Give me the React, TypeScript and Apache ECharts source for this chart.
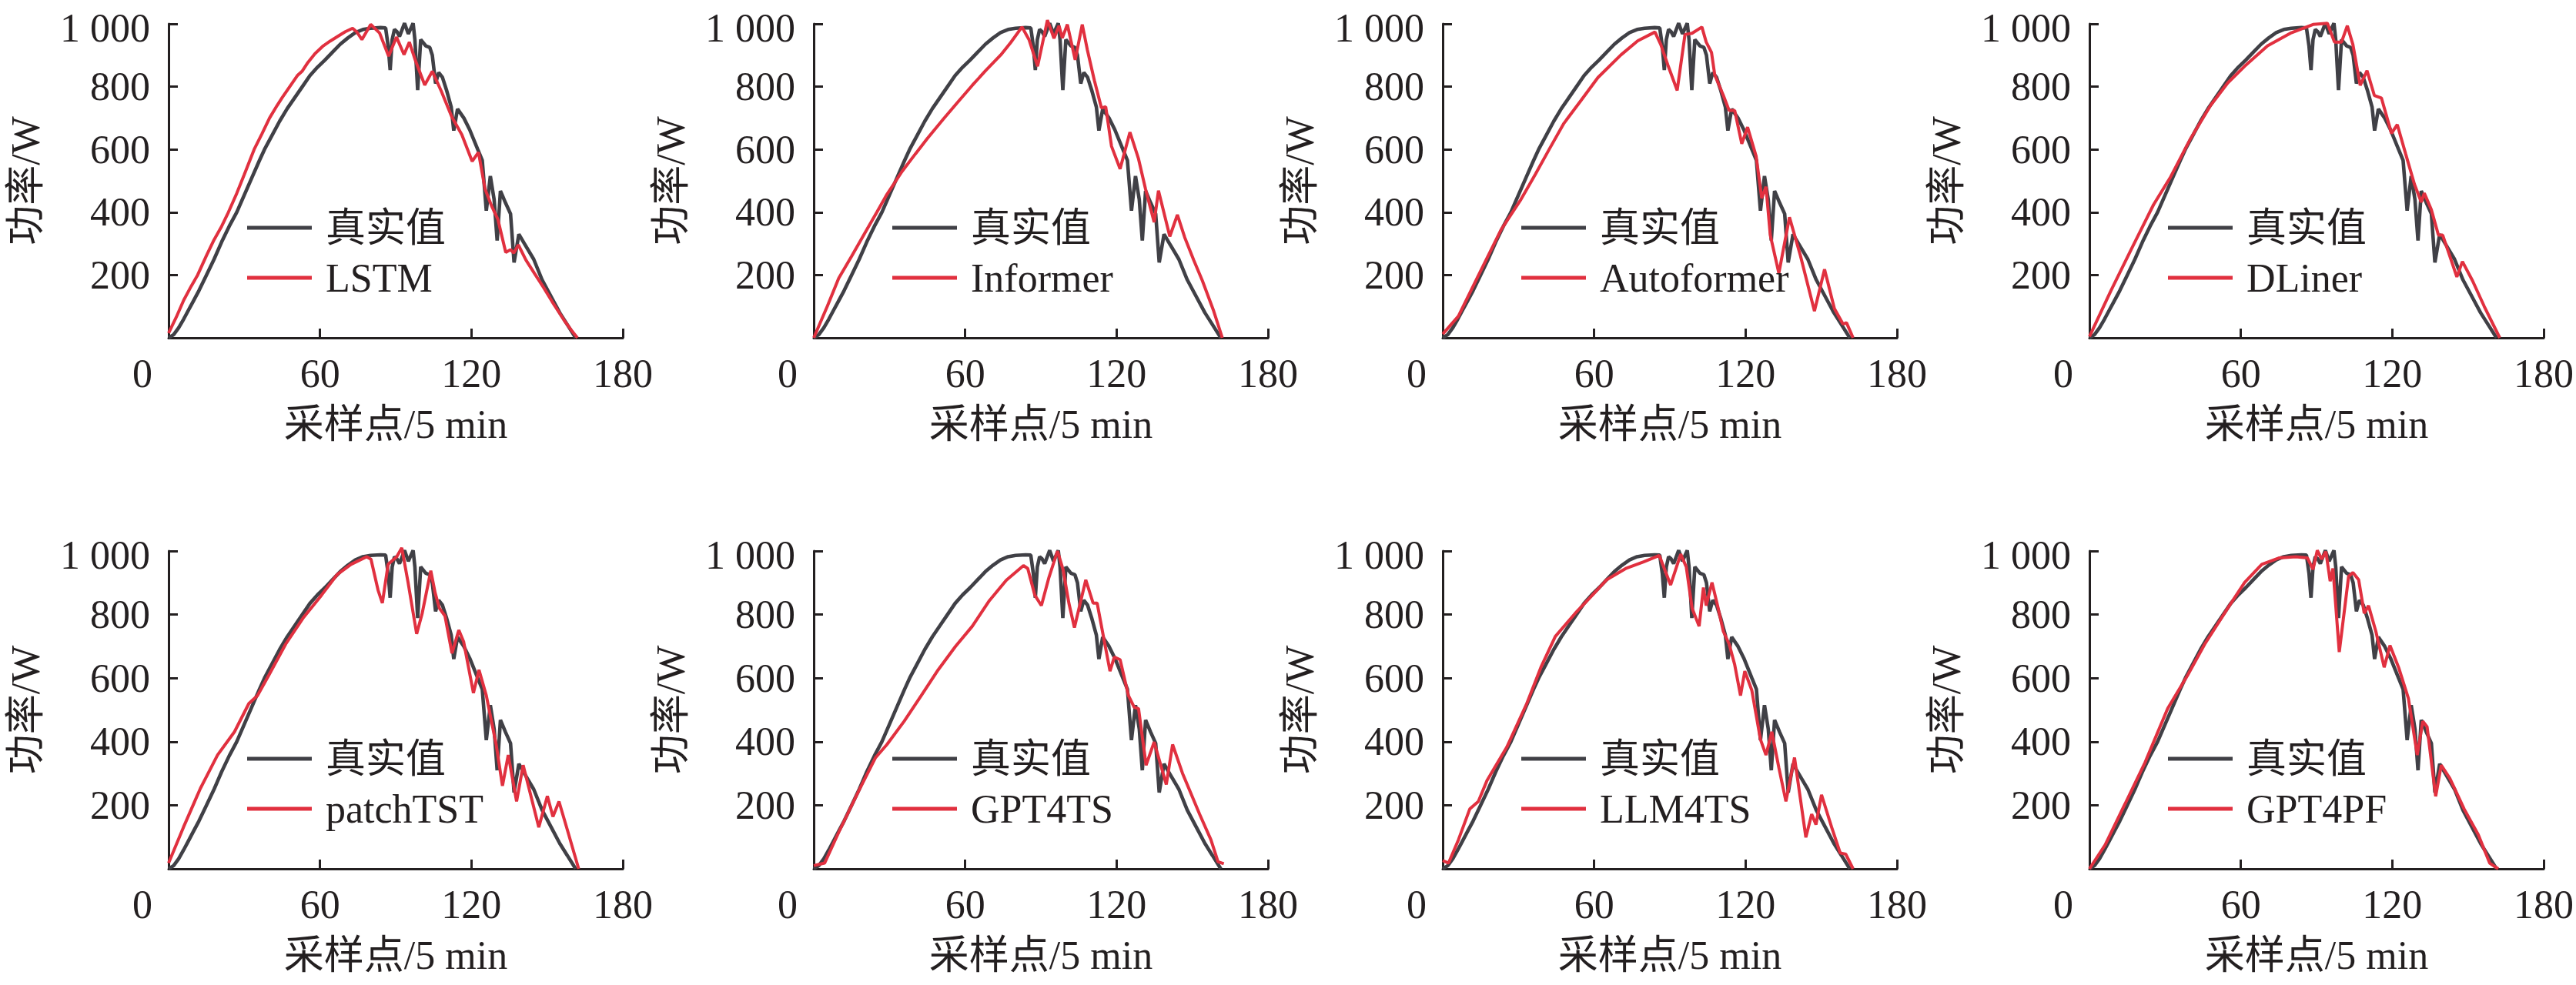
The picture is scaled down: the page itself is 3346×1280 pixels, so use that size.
import React, { useEffect, useRef } from 'react';
import * as echarts from 'echarts';

// ---- data (sample index, power W) ----
const X_TICKS = { min: 0, max: 180, interval: 60 };
const Y_TICKS = { min: 0, max: 1000, interval: 200 };
const X_NAME = '采样点/5 min';
const Y_NAME = '功率/W';
const TRUE_NAME = '真实值';
const MODELS = ['LSTM', 'Informer', 'Autoformer', 'DLiner', 'patchTST', 'GPT4TS', 'LLM4TS', 'GPT4PF'];

const TRUE_VALUES = [
  [0, 0], [2, 10], [4, 32], [6, 60], [8, 90], [10, 120], [12, 150], [15, 200], [18, 250], [21, 305],
  [24, 355], [27, 400], [30, 455], [33, 510], [36, 565], [38, 600], [41, 645], [44, 690], [47, 730],
  [50, 765], [53, 800], [56, 835], [59, 862], [62, 885], [65, 910], [68, 935], [71, 955], [74, 972],
  [77, 982], [80, 986], [84, 988], [86, 987], [87, 930], [87.8, 853], [88.6, 950], [89.5, 982],
  [90.5, 975], [91.5, 960], [93.5, 1002], [95, 968], [96.9, 1002], [97.6, 950], [98.7, 789],
  [99.9, 950], [101.9, 930], [103.5, 925], [104.5, 900], [105.8, 810], [107, 845], [108.5, 830],
  [110.1, 790], [112, 735], [113, 660], [114.5, 729], [117, 700], [119.3, 663], [122.5, 600],
  [124.3, 565], [125.9, 405], [127.5, 515], [129, 440], [130.2, 310], [131.5, 468], [133.5, 430],
  [135.5, 395], [136.9, 240], [138.8, 330], [141, 300], [144.7, 250], [148, 185], [152, 125],
  [155, 80], [158, 42], [161.3, 0],
];

const LSTM_PRED = [
  [0, 15], [3, 65], [6, 120], [9, 165], [11.5, 200], [15, 262], [18, 312], [21, 355], [23.7, 400],
  [27, 460], [30, 520], [33.9, 600], [37, 650], [40, 700], [43, 740], [45, 765], [48, 800], [51, 835],
  [53, 850], [55.2, 877], [58, 905], [61.3, 930], [64, 945], [67.4, 962], [70, 975], [72.9, 986],
  [74.5, 975], [76.6, 950], [80.1, 998], [83.6, 971], [87.2, 897], [90.3, 958], [93.3, 902],
  [95.4, 942], [97.9, 881], [101.5, 805], [104.5, 849], [108.1, 785], [112.2, 704], [116.2, 647],
  [120.3, 562], [122.8, 591], [125.4, 474], [128, 420], [130.5, 377], [133.6, 272], [135.5, 281],
  [136.8, 270], [138.6, 296], [141.6, 248], [145, 205], [148.7, 159], [152, 115], [156.9, 54],
  [160, 20], [162, 0],
];

const INFORMER_PRED = [
  [0, 0], [5.4, 101], [9.9, 190], [15, 260], [20, 330], [25, 400], [29, 457], [35, 530], [40.3, 586],
  [45, 635], [51.6, 699], [57, 750], [62.8, 804], [68, 850], [74.1, 901], [78, 940], [82.5, 990],
  [85.3, 950], [88.7, 865], [92.6, 1012], [95.2, 954], [97.2, 994], [98.5, 955], [100.5, 998],
  [103.6, 885], [106.4, 998], [108.4, 918], [111.2, 820], [114, 732], [115.7, 736], [118, 610],
  [121.4, 538], [125.3, 655], [128.7, 570], [131.5, 473], [134.9, 368], [136.6, 469], [141.1, 323],
  [144.1, 392], [147, 320], [150.6, 247], [154, 182], [158.5, 85], [161.9, 0],
];

const AUTOFORMER_PRED = [
  [0, 12], [6.2, 69], [14.1, 198], [23.1, 344], [31, 441], [36.7, 521], [42.3, 602], [48, 683],
  [54.8, 756], [61.5, 829], [70.6, 901], [77.3, 946], [84.1, 974], [86.4, 934], [89.2, 869],
  [92.9, 788], [96, 966], [98.8, 970], [102.7, 990], [104.4, 942], [106.5, 909], [107.8, 837],
  [111.2, 772], [113.5, 724], [115.7, 724], [118.5, 618], [120.8, 671], [124.2, 578], [126.4, 445],
  [128.1, 481], [129.8, 327], [133.2, 206], [137.4, 384], [141.7, 263], [147.3, 85], [151.3, 218],
  [155.2, 93], [158.6, 44], [160, 48], [162.6, 0],
];

const DLINER_PRED = [
  [0, 4], [8.5, 150], [16.4, 279], [25.4, 424], [32.2, 513], [40.1, 635], [48, 740], [54.8, 812],
  [61.5, 865], [70.6, 930], [79.6, 970], [88.6, 998], [94.3, 1002], [97.1, 942], [99.9, 942],
  [102.2, 994], [104.4, 934], [107.3, 804], [110, 851], [112.9, 772], [115.7, 764], [119.7, 651],
  [122, 679], [125.3, 586], [128.8, 489], [131.5, 432], [132.7, 461], [135.5, 408], [138.3, 327],
  [140, 327], [145.6, 194], [147.8, 243], [151.8, 182], [156.4, 101], [162.6, 0],
];

const PATCHTST_PRED = [
  [0, 18], [5.9, 131], [12.6, 253], [19.4, 358], [26.1, 431], [31.8, 520], [35.2, 545], [39.7, 609],
  [46.4, 707], [53.2, 788], [60.6, 861], [66.7, 925], [72.3, 958], [78.5, 982], [80.2, 974],
  [83, 877], [84.7, 836], [87, 958], [90.4, 982], [92.4, 1010], [94.9, 901], [98.3, 739],
  [100.5, 804], [103.9, 938], [105.6, 869], [107.3, 820], [109.5, 796], [112.3, 678], [115, 751],
  [116.9, 715], [120.8, 553], [123, 626], [125.9, 545], [129.8, 391], [132.3, 261], [134.6, 358],
  [137.9, 212], [140.5, 326], [146.7, 131], [150.1, 229], [152.3, 164], [154.7, 212], [158, 123],
  [162.5, 0],
];

const GPT4TS_PRED = [
  [0, 10], [4.3, 18], [9.9, 115], [17.8, 245], [24.5, 350], [29, 391], [35.8, 464], [42.6, 545],
  [49.3, 626], [56.1, 699], [62.8, 763], [69.6, 844], [76.3, 908], [83.1, 954], [84.8, 945],
  [87.6, 861], [90.2, 828], [93.2, 917], [96.6, 1000], [98.8, 941], [101.1, 836], [103.3, 759],
  [107.8, 909], [110.7, 836], [112.3, 836], [114.6, 739], [117.4, 622], [119.1, 666], [121.4, 658],
  [124.7, 545], [127, 508], [128.7, 504], [131.7, 326], [134.9, 399], [139.7, 265], [142.2, 391],
  [146.1, 301], [152.9, 172], [157.4, 91], [160.2, 22], [162.5, 16],
];

const LLM4TS_PRED = [
  [0, 26], [2.3, 18], [6.2, 91], [10.7, 188], [14.1, 212], [17.5, 277], [25.4, 383], [33.3, 520],
  [38.9, 634], [44.6, 731], [52.5, 804], [59.3, 861], [64.9, 909], [72.8, 946], [79.6, 966],
  [85.8, 986], [90.3, 893], [94.3, 990], [96.5, 950], [98.8, 820], [101.6, 763], [103.3, 885],
  [104.4, 828], [106.7, 901], [108.9, 828], [111.2, 747], [113.5, 707], [115.7, 642], [118, 545],
  [119.7, 622], [122.5, 561], [125.9, 407], [128.1, 358], [130.4, 431], [133.2, 318], [136, 212],
  [139.4, 350], [143.9, 99], [146.2, 172], [147.9, 139], [150.1, 233], [154.1, 131], [157.5, 50],
  [159.7, 46], [162.6, 0],
];

const GPT4PF_PRED = [
  [0, 0], [6.2, 75], [14.1, 204], [22, 334], [31, 504], [38.9, 609], [45.7, 707], [54.8, 820],
  [61.5, 901], [68.3, 958], [75.1, 978], [81.8, 982], [86.4, 978], [88.6, 942], [90.3, 1002],
  [92, 974], [93.7, 998], [95.4, 905], [96.5, 945], [99, 682], [102.7, 920], [104.4, 932],
  [106.7, 909], [108.9, 804], [110.6, 828], [113.5, 747], [116.8, 634], [119.1, 703], [122.5, 634],
  [126.4, 536], [129.9, 358], [132.1, 464], [133.8, 447], [137.2, 228], [139.4, 326], [142.8, 285],
  [148.5, 188], [154.1, 107], [158.6, 18], [162, 0],
];

const PREDICTIONS = [
  LSTM_PRED, INFORMER_PRED, AUTOFORMER_PRED, DLINER_PRED,
  PATCHTST_PRED, GPT4TS_PRED, LLM4TS_PRED, GPT4PF_PRED,
];

// ---- layout / style ----
const COL_LEFT = [219, 1057, 1874, 2714];
const ROW_TOP = [26, 716];
const GRID_W = 590;
const GRID_H = 413;
const DARK = '#404046';
const RED = '#e1303f';
const INK = '#231f20';
const FONT = '"Liberation Serif", "Times New Roman", "Noto Sans CJK SC", serif';
const FS = 52;

export default function App() {
  const ref = useRef<HTMLDivElement>(null);
  useEffect(() => {
    const chart = echarts.init(ref.current as HTMLDivElement, null, { renderer: 'svg' });
    const grids: any[] = [];
    const xAxes: any[] = [];
    const yAxes: any[] = [];
    const series: any[] = [];
    const legends: any[] = [];
    const axisLine = { show: true, lineStyle: { color: INK, width: 3 } };
    const axisTick = { show: true, inside: true, length: 12, lineStyle: { color: INK, width: 3 } };
    MODELS.forEach((model, i) => {
      const col = i % 4;
      const row = Math.floor(i / 4);
      const left = COL_LEFT[col];
      const top = ROW_TOP[row];
      grids.push({ left, top, width: GRID_W, height: GRID_H });
      xAxes.push({
        gridIndex: i, type: 'value', ...X_TICKS,
        name: X_NAME, nameLocation: 'middle', nameGap: 86,
        nameTextStyle: { fontFamily: FONT, fontSize: FS, color: INK },
        axisLine, axisTick, splitLine: { show: false },
        axisLabel: {
          margin: 20, fontFamily: FONT, fontSize: FS, color: INK,
          formatter: (v: number) => (v === 0 ? '{z|0}' : String(v)),
          rich: { z: { padding: [0, 68, 0, 0], fontFamily: FONT, fontSize: FS, color: INK } },
        },
      });
      yAxes.push({
        gridIndex: i, type: 'value', ...Y_TICKS,
        name: Y_NAME, nameLocation: 'middle', nameGap: 160,
        nameTextStyle: { fontFamily: FONT, fontSize: FS, color: INK },
        axisLine, axisTick, splitLine: { show: false },
        axisLabel: {
          margin: 24, fontFamily: FONT, fontSize: FS, lineHeight: 40, color: INK,
          formatter: (v: number) => (v === 0 ? '' : v === 1000 ? '{t|1 000}' : String(v)),
          rich: {
            t: {
              fontFamily: FONT, fontSize: FS, lineHeight: 40, color: INK,
              padding: [10, 0, 0, 0],
            },
          },
        },
      });
      series.push({
        type: 'line', name: TRUE_NAME, xAxisIndex: i, yAxisIndex: i, data: TRUE_VALUES,
        symbol: 'none', clip: false, z: 2,
        lineStyle: { color: DARK, width: 4.6 }, itemStyle: { color: DARK },
      });
      series.push({
        type: 'line', name: model, xAxisIndex: i, yAxisIndex: i, data: PREDICTIONS[i],
        symbol: 'none', clip: false, z: 3,
        lineStyle: { color: RED, width: 4 }, itemStyle: { color: RED },
      });
      legends.push({
        orient: 'vertical', left: left + 102, top: top + 242,
        data: [TRUE_NAME, model], selectedMode: false,
        icon: 'rect', itemWidth: 84, itemHeight: 5, itemGap: 9, padding: 0,
        textStyle: { fontFamily: FONT, fontSize: FS, color: INK, lineHeight: 56, padding: [0, 0, 0, 13] },
      });
    });
    chart.setOption({
      animation: false,
      backgroundColor: '#ffffff',
      grid: grids, xAxis: xAxes, yAxis: yAxes, series, legend: legends,
    });
    return () => chart.dispose();
  }, []);
  return (
    <div
      ref={ref}
      style={{ position: 'fixed', left: 0, top: 0, width: 3346, height: 1280, background: '#fff' }}
    />
  );
}
